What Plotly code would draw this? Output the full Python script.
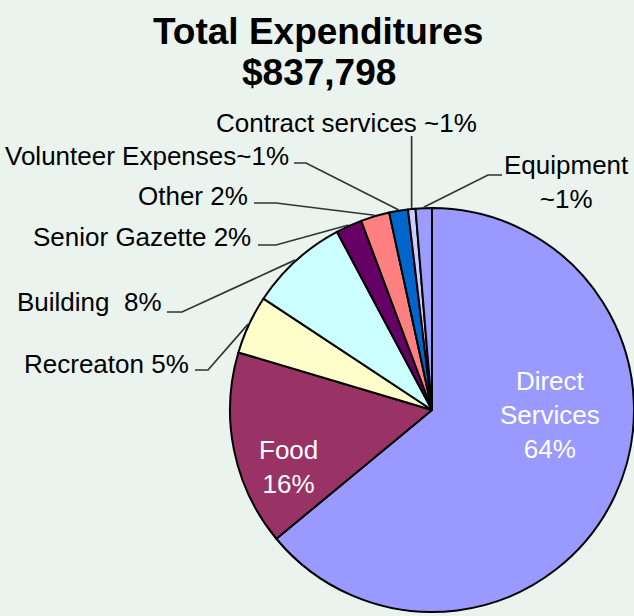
import math
import plotly.graph_objects as go

# ---- data ----
categories = ["Direct Services", "Food", "Recreaton", "Building", "Senior Gazette",
              "Other", "Volunteer Expenses", "Contract services", "Equipment"]
percent_values = [64.0, 15.6, 4.7, 7.9, 2.1, 2.3, 1.5, 0.6, 1.3]
label_texts = ["Direct<br>Services<br>64%", "Food<br>16%", "Recreaton 5%", "Building  8%",
               "Senior Gazette 2%", "Other 2%", "Volunteer Expenses~1%",
               "Contract services ~1%", "Equipment<br>~1%"]
colors = ["#9999FF", "#993366", "#FFFFCC", "#CCFFFF", "#660066",
          "#FF8080", "#0066CC", "#CCCCFF", "#9C9CFF"]
title_line1 = "Total Expenditures"
title_line2 = "$837,798"

# ---- layout constants (pixels) ----
W, H = 634, 616
CX, CY, R = 432, 410, 202
BG = "#EAF3EE"
FONT = "Liberation Sans, Arial, sans-serif"


def px(x):
    return x / W


def py(y):
    return 1 - y / H


fig = go.Figure(go.Pie(
    labels=categories, values=percent_values, sort=False, direction="clockwise",
    rotation=0, textinfo="none", hoverinfo="label+percent",
    marker=dict(colors=colors, line=dict(color="black", width=2)),
    domain=dict(x=[px(CX - R), px(CX + R)], y=[py(CY + R), py(CY - R)]),
    showlegend=False,
))

# mid-angle of each slice on the pie edge (computed from data)
total = sum(percent_values)
edge = {}
cum = 0
for name, v in zip(categories, percent_values):
    mid = (cum + v / 2) / total * 2 * math.pi
    cum += v
    edge[name] = (CX + (R + 1) * math.sin(mid), CY - (R + 1) * math.cos(mid))

annotations = []
shapes = []

# titles
annotations.append(dict(text="<b>" + title_line1 + "</b>", x=px(318), y=py(31), xref="paper", yref="paper",
                        showarrow=False, xanchor="center", yanchor="middle",
                        font=dict(family=FONT, size=37, color="black")))
annotations.append(dict(text="<b>" + title_line2 + "</b>", x=px(319), y=py(72), xref="paper", yref="paper",
                        showarrow=False, xanchor="center", yanchor="middle",
                        font=dict(family=FONT, size=37, color="black")))

# inside labels
inside = {"Direct Services": (550, 415), "Food": (288, 467)}
for i, name in enumerate(categories):
    if name in inside:
        x, y = inside[name]
        annotations.append(dict(text=label_texts[i], x=px(x), y=py(y), xref="paper", yref="paper",
                                showarrow=False, xanchor="center", yanchor="middle",
                                font=dict(family=FONT, size=26, color="white")))

# outside labels: (text anchor x, y, xanchor, stub start, stub end)
outside = {
    "Recreaton": (191, 364, "right", (195, 370), (208, 370)),
    "Building": (164, 302, "right", (167, 312), (182, 312)),
    "Senior Gazette": (253, 237, "right", (258, 245), (276, 245)),
    "Other": (250, 196, "right", (254, 203), (276, 203)),
    "Volunteer Expenses": (291, 156, "right", (294, 163), (306, 163)),
    "Contract services": (346, 123, "center", None, None),
    "Equipment": (566, 182, "center", (502, 175), (488, 175)),
}
for i, name in enumerate(categories):
    if name not in outside:
        continue
    x, y, xa, s0, s1 = outside[name]
    annotations.append(dict(text=label_texts[i], x=px(x), y=py(y), xref="paper", yref="paper",
                            showarrow=False, xanchor=xa, yanchor="middle",
                            font=dict(family=FONT, size=26, color="black")))
    ex, ey = edge[name]
    if s0 is None:
        pts = [(ex, 136), (ex, ey)]
    else:
        pts = [s0, s1, (ex, ey)]
    path = "M " + " L ".join(f"{px(a):.5f},{py(b):.5f}" for a, b in pts)
    shapes.append(dict(type="path", path=path, xref="paper", yref="paper",
                       line=dict(color="#333333", width=1.7)))

fig.update_layout(
    width=W, height=H, margin=dict(l=0, r=0, t=0, b=0),
    paper_bgcolor=BG, plot_bgcolor=BG,
    annotations=annotations, shapes=shapes,
)

fig.write_html(
    "out.html",
    config={"displayModeBar": False},
    post_script="document.body.style.margin='0';document.body.style.background='" + BG + "';",
)
